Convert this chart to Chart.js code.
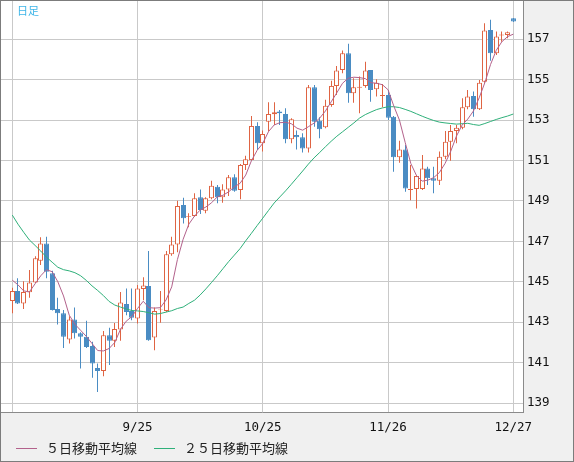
<!DOCTYPE html>
<html>
<head>
<meta charset="utf-8">
<script src="https://cdn.jsdelivr.net/npm/chart.js@4.4.1/dist/chart.umd.min.js"></script>
<style>
  html, body { margin: 0; padding: 0; background: #fff; }
  #wrap { width: 574px; height: 462px; }
</style>
</head>
<body>
<div id="wrap"><canvas id="candleChart" width="574" height="462"></canvas></div>
<script>
// --- Data (daily candles, 8/26 .. 12/27) ---
const opens = [
  144.05, 144.54, 143.93, 144.48, 144.97, 146.04, 146.90, 145.42, 143.65, 143.44,
  142.15, 143.14, 142.45, 142.28, 141.82, 140.74, 140.59, 142.36, 142.08, 142.64,
  143.90, 143.56, 143.19, 144.65, 144.79, 142.25, 143.60, 143.56, 146.36, 146.85,
  148.80, 148.22, 148.25, 149.18, 148.51, 149.13, 149.70, 149.18, 149.57, 150.17,
  149.54, 150.78, 151.02, 152.71, 151.85, 152.92, 153.29, 153.42, 153.30, 152.05,
  152.26, 152.15, 151.60, 154.62, 152.97, 152.64, 153.75, 154.69, 155.48, 156.31,
  154.33, 154.60, 154.69, 155.48, 154.52, 154.19, 154.24, 153.17, 151.16, 151.55,
  149.54, 149.59, 149.59, 150.61, 150.12, 150.00, 151.19, 151.93, 152.46, 152.62,
  153.63, 154.19, 153.53, 154.90, 157.46, 156.31, 157.18, 157.21, 158.04
];
const highs = [
  144.70, 145.17, 145.03, 145.58, 146.27, 147.20, 147.23, 145.55, 144.21, 143.60,
  143.30, 143.73, 142.51, 143.07, 142.03, 140.96, 142.57, 142.73, 142.96, 144.50,
  144.67, 144.67, 144.84, 145.22, 146.52, 143.73, 144.54, 146.52, 147.23, 149.01,
  149.16, 148.39, 149.38, 149.57, 149.18, 150.00, 149.79, 149.82, 150.28, 150.32,
  150.83, 151.24, 153.20, 152.89, 152.48, 153.88, 153.88, 153.50, 153.58, 153.09,
  152.48, 152.35, 154.74, 154.74, 153.14, 154.00, 154.95, 155.68, 156.44, 156.77,
  155.07, 155.15, 155.89, 155.48, 155.02, 154.79, 154.49, 153.20, 151.98, 151.77,
  150.78, 150.28, 151.27, 150.69, 150.69, 151.44, 152.46, 152.76, 152.76, 154.08,
  154.49, 154.41, 154.98, 157.79, 157.96, 157.38, 157.38, 157.38, 158.05
];
const lows = [
  143.45, 143.90, 143.65, 144.21, 144.94, 145.83, 145.17, 143.58, 142.89, 141.73,
  141.95, 142.20, 140.71, 141.73, 140.25, 139.55, 140.33, 140.88, 141.78, 142.08,
  143.35, 143.10, 142.94, 144.09, 142.08, 141.62, 142.97, 143.51, 146.29, 146.46,
  147.89, 147.70, 148.22, 148.35, 148.39, 149.08, 148.88, 148.91, 149.24, 149.46,
  149.08, 150.53, 150.99, 151.52, 151.44, 152.43, 152.76, 152.76, 151.85, 151.85,
  151.55, 151.39, 151.39, 152.67, 152.10, 152.59, 153.66, 154.24, 155.32, 153.86,
  153.86, 153.34, 154.60, 153.91, 154.16, 153.63, 153.00, 150.45, 150.89, 149.46,
  149.04, 148.63, 149.54, 149.79, 149.38, 149.79, 151.06, 150.99, 151.85, 152.54,
  153.53, 153.17, 153.50, 154.85, 155.94, 156.22, 156.88, 157.05, 157.85
];
const closes = [
  144.54, 143.93, 144.49, 144.97, 146.16, 146.90, 145.50, 143.60, 143.44, 142.28,
  143.14, 142.45, 142.28, 141.78, 140.96, 140.59, 142.36, 142.08, 142.66, 143.98,
  143.51, 143.22, 144.67, 144.82, 142.11, 143.56, 143.63, 146.36, 146.85, 148.75,
  148.14, 148.25, 149.13, 148.55, 149.13, 149.75, 149.18, 149.57, 150.17, 149.50,
  150.78, 151.06, 152.71, 151.85, 152.31, 153.30, 153.39, 153.34, 152.05, 153.04,
  152.15, 151.60, 154.62, 152.92, 152.54, 153.71, 154.69, 155.45, 156.31, 154.33,
  154.62, 154.65, 155.45, 154.49, 154.85, 154.24, 153.12, 151.16, 151.55, 149.62,
  149.59, 150.23, 150.61, 150.12, 150.00, 151.19, 151.93, 152.46, 152.62, 153.63,
  154.16, 153.53, 154.85, 157.43, 156.31, 157.13, 157.23, 157.35, 157.87
];

// moving averages
const ma5 = [
  145.08, 144.85, 144.55, 144.50, 144.90, 145.30, 145.60, 145.50, 145.00, 144.30,
  143.35, 142.90, 142.60, 142.30, 141.95, 141.60, 141.58, 141.70, 142.00, 142.65,
  143.05, 143.28, 143.68, 144.04, 143.72, 143.70, 143.72, 144.10, 144.75, 146.10,
  147.10, 147.85, 148.25, 148.55, 148.70, 148.91, 149.20, 149.28, 149.45, 149.70,
  149.87, 150.28, 150.99, 151.50, 151.85, 152.43, 152.76, 152.87, 152.89, 152.82,
  152.60, 152.50, 152.67, 152.85, 153.10, 153.45, 153.90, 154.35, 154.82, 155.07,
  155.12, 155.10, 155.05, 154.85, 154.82, 154.75, 154.50, 153.70, 153.00, 151.90,
  150.85, 150.25, 149.98, 150.03, 150.15, 150.40, 150.85, 151.45, 152.20, 152.75,
  153.05, 153.45, 154.10, 154.85, 155.75, 156.45, 156.88, 157.13, 157.25
];
const ma25 = [
  148.30, 147.85, 147.45, 147.07, 146.80, 146.52, 146.22, 145.97, 145.72, 145.60,
  145.54, 145.45, 145.30, 145.07, 144.80, 144.57, 144.32, 144.03, 143.85, 143.75,
  143.66, 143.58, 143.56, 143.53, 143.47, 143.40, 143.43, 143.50, 143.57, 143.68,
  143.75, 143.93, 144.09, 144.35, 144.65, 144.97, 145.30, 145.65, 146.00, 146.32,
  146.64, 147.03, 147.40, 147.78, 148.15, 148.53, 148.90, 149.20, 149.50, 149.82,
  150.15, 150.48, 150.82, 151.13, 151.40, 151.68, 151.95, 152.20, 152.42, 152.64,
  152.86, 153.10, 153.27, 153.40, 153.52, 153.60, 153.66, 153.66, 153.62, 153.53,
  153.43, 153.31, 153.19, 153.08, 152.98, 152.90, 152.86, 152.83, 152.80, 152.82,
  152.84, 152.78, 152.74, 152.83, 152.93, 153.03, 153.12, 153.20, 153.30
];

// axis ticks
const xTickIdx = [0, 22, 44, 66, 88];
const xTickLabels = ['', '9/25', '10/25', '11/26', '12/27'];
const yTicks = [139, 141, 143, 145, 147, 149, 151, 153, 155, 157];

const UP = '#df6443';
const DOWN = '#4a8cc3';
const MA5_COLOR = '#b3628c';
const MA25_COLOR = '#2fb07a';

const isUp = i => closes[i] >= opens[i];

// --- Plugins ---
const framePlugin = {
  id: 'frame',
  beforeDraw(chart) {
    const { ctx, chartArea: a, width, height } = chart;
    ctx.save();
    ctx.fillStyle = '#f0f0f0';
    ctx.fillRect(0, 0, width, height);
    ctx.fillStyle = '#ffffff';
    ctx.fillRect(a.left, a.top, a.right - a.left, a.bottom - a.top);
    ctx.restore();
  },
  beforeDatasetsDraw(chart) {
    // snap candles to whole pixels so bodies and wicks stay crisp
    chart.data.datasets.forEach((ds, di) => {
      if (ds.type === 'line') return;
      chart.getDatasetMeta(di).data.forEach(el => { el.x = Math.floor(el.x) + 0.5; });
    });
  },
  afterDraw(chart) {
    const { ctx, width, height } = chart;
    ctx.save();
    ctx.strokeStyle = '#7c7c7c';
    ctx.lineWidth = 1;
    ctx.strokeRect(0.5, 0.5, width - 1, height - 1);

    // 日足 label
    ctx.fillStyle = '#3db5e8';
    ctx.font = '11px "Noto Sans CJK JP"';
    ctx.textBaseline = 'middle';
    ctx.fillText('日足', 17, 11);

    // legend
    ctx.font = '13px "Noto Sans CJK JP"';
    ctx.fillStyle = '#222';
    let x = 16;
    const y = 448.5;
    chart.data.datasets.filter(d => d.type === 'line').forEach(d => {
      ctx.strokeStyle = d.borderColor;
      ctx.beginPath();
      ctx.moveTo(x, y);
      ctx.lineTo(x + 21, y);
      ctx.stroke();
      ctx.fillText(d.label, x + 30, y);
      x += 30 + ctx.measureText(d.label).width + 17;
    });
    ctx.restore();
  }
};

const noPad = s => { s.paddingTop = 0; s.paddingBottom = 0; s.paddingLeft = 0; s.paddingRight = 0; };

// --- Chart ---
const ctx = document.getElementById('candleChart').getContext('2d');
new Chart(ctx, {
  type: 'bar',
  data: {
    datasets: [
      {
        type: 'line',
        label: '５日移動平均線',
        data: ma5.map((v, i) => ({ x: i, y: v })),
        borderColor: MA5_COLOR,
        borderWidth: 1,
        pointRadius: 0,
        tension: 0,
        order: 1
      },
      {
        type: 'line',
        label: '２５日移動平均線',
        data: ma25.map((v, i) => ({ x: i, y: v })),
        borderColor: MA25_COLOR,
        borderWidth: 1,
        pointRadius: 0,
        tension: 0,
        order: 2
      },
      {
        label: 'body',
        data: opens.map((o, i) => ({ x: i, y: [o, closes[i]] })),
        backgroundColor: c => isUp(c.dataIndex) ? '#ffffff' : DOWN,
        borderColor: c => isUp(c.dataIndex) ? UP : DOWN,
        borderWidth: 1,
        borderSkipped: false,
        barThickness: 5,
        grouped: false,
        inflateAmount: 0,
        order: 3
      },
      {
        label: 'wick',
        data: lows.map((l, i) => ({ x: i, y: [l, highs[i]] })),
        backgroundColor: c => isUp(c.dataIndex) ? UP : DOWN,
        borderWidth: 0,
        barThickness: 1,
        grouped: false,
        inflateAmount: 0,
        order: 4
      }
    ]
  },
  options: {
    responsive: false,
    devicePixelRatio: 1,
    animation: false,
    events: [],
    layout: { padding: { left: 1, top: 1, right: 0, bottom: 0 } },
    plugins: {
      legend: { display: false },
      tooltip: { enabled: false }
    },
    scales: {
      x: {
        type: 'linear',
        offset: false,
        min: -1.985,
        max: 89.70,
        afterBuildTicks: s => { s.ticks = xTickIdx.map(v => ({ value: v })); },
        afterFit: s => { s.height = 50; noPad(s); },
        grid: { color: '#c9c9c9', drawTicks: false, offset: false },
        border: { display: true, color: '#8a8a8a' },
        ticks: {
          autoSkip: false,
          maxRotation: 0,
          padding: 8,
          color: '#111',
          font: { family: 'DejaVu Sans Mono', size: 12.5 },
          callback: (v, i) => xTickLabels[i]
        }
      },
      y: {
        position: 'right',
        min: 138.56,
        max: 158.89,
        afterBuildTicks: s => { s.ticks = yTicks.map(v => ({ value: v })); },
        afterFit: s => { s.width = 51; noPad(s); },
        grid: { color: '#c9c9c9', drawTicks: false, offset: false },
        border: { display: true, color: '#8a8a8a' },
        ticks: {
          padding: 4,
          color: '#111',
          font: { family: 'DejaVu Sans Mono', size: 12.5 },
          callback: v => String(v)
        }
      }
    }
  },
  plugins: [framePlugin]
});
</script>
</body>
</html>
